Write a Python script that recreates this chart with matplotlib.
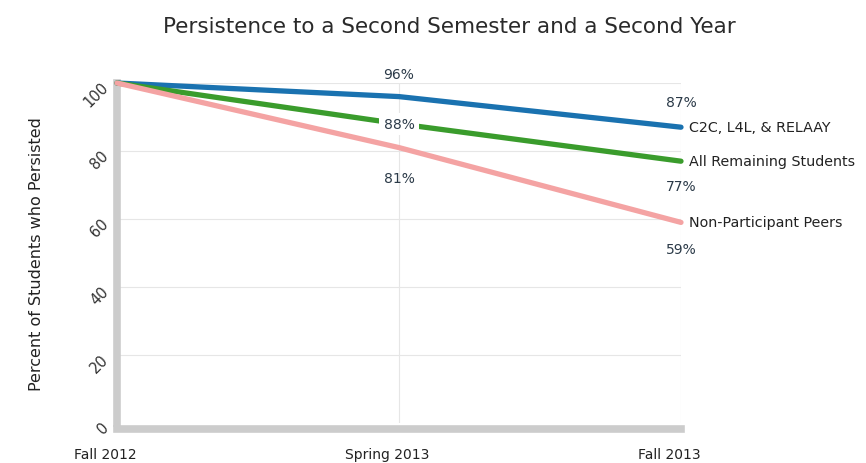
import matplotlib.pyplot as plt
from matplotlib.transforms import ScaledTranslation

terms = ["Fall 2012", "Spring 2013", "Fall 2013"]
c2c = [100, 96, 87]
remaining = [100, 88, 77]
non_participant = [100, 81, 59]
series_names = ["C2C, L4L, & RELAAY", "All Remaining Students", "Non-Participant Peers"]
y_ticks = [0, 20, 40, 60, 80, 100]

colors = ["#1a72b0", "#3a9c2c", "#f4a3a3"]
text_color = "#2b3a48"

fig = plt.figure(figsize=(8.66, 4.64), dpi=100, facecolor="white")
ax = fig.add_axes([117 / 866, 40 / 464, (681 - 117) / 866, (424 - 84) / 464])

x = list(range(len(terms)))
series = [c2c, remaining, non_participant]
for vals, col in zip(series, colors):
    ax.plot(x, vals, color=col, lw=3.8, solid_capstyle="round", zorder=3, clip_on=False)

ax.set_xlim(0, 2)
ax.set_ylim(0, 100)

# grid
for v in y_ticks[1:]:
    ax.axhline(v, color="#e6e6e6", lw=0.8, zorder=1)
for xv in (1, 2):
    ax.axvline(xv, color="#e6e6e6", lw=0.8, zorder=1)

for s in ("top", "right"):
    ax.spines[s].set_visible(False)
for s in ("left", "bottom"):
    ax.spines[s].set_color("#cccccc")
    ax.spines[s].set_linewidth(5.5)
ax.spines["bottom"].set_position(("outward", 4))

ax.set_yticks(y_ticks)
ax.set_yticklabels([str(v) for v in y_ticks], rotation=45, fontsize=10.5, color="#333333")
ax.set_xticks(x)
ax.set_xticklabels(terms, fontsize=10, color="#222222")
ax.tick_params(length=0)
ax.tick_params(axis="y", pad=6)
ax.tick_params(axis="x", pad=13)

# nudge tick labels
for lab in ax.get_yticklabels():
    lab.set_transform(lab.get_transform() + ScaledTranslation(0.03, -0.02, fig.dpi_scale_trans))
for lab in ax.get_xticklabels():
    lab.set_transform(lab.get_transform() + ScaledTranslation(-0.12, 0, fig.dpi_scale_trans))

ax.set_ylabel("Percent of Students who Persisted", fontsize=11.5, color="#222222", labelpad=27)
fig.suptitle("Persistence to a Second Semester and a Second Year", x=0.519, y=0.963,
             fontsize=15.5, color="#2a2a2a")

# value labels (offset in points)
offsets = {
    (0, 1): 16, (1, 1): 0, (2, 1): -22,
    (0, 2): 18, (1, 2): -18, (2, 2): -19,
}
for si, vals in enumerate(series):
    for xi in (1, 2):
        dy = offsets[(si, xi)]
        kw = {}
        if dy == 0:
            kw["bbox"] = dict(facecolor="white", edgecolor="none", pad=3)
        ax.annotate(f"{vals[xi]}%", (xi, vals[xi]), xytext=(0, dy), textcoords="offset points",
                    ha="center", va="center", fontsize=10, color=text_color, zorder=5, **kw)

for name, vals in zip(series_names, series):
    ax.annotate(name, (2, vals[-1]), xytext=(6, 0), textcoords="offset points",
                ha="left", va="center", fontsize=10.3, color="#222222", annotation_clip=False)

plt.savefig("out.png", dpi=100, facecolor="white")
